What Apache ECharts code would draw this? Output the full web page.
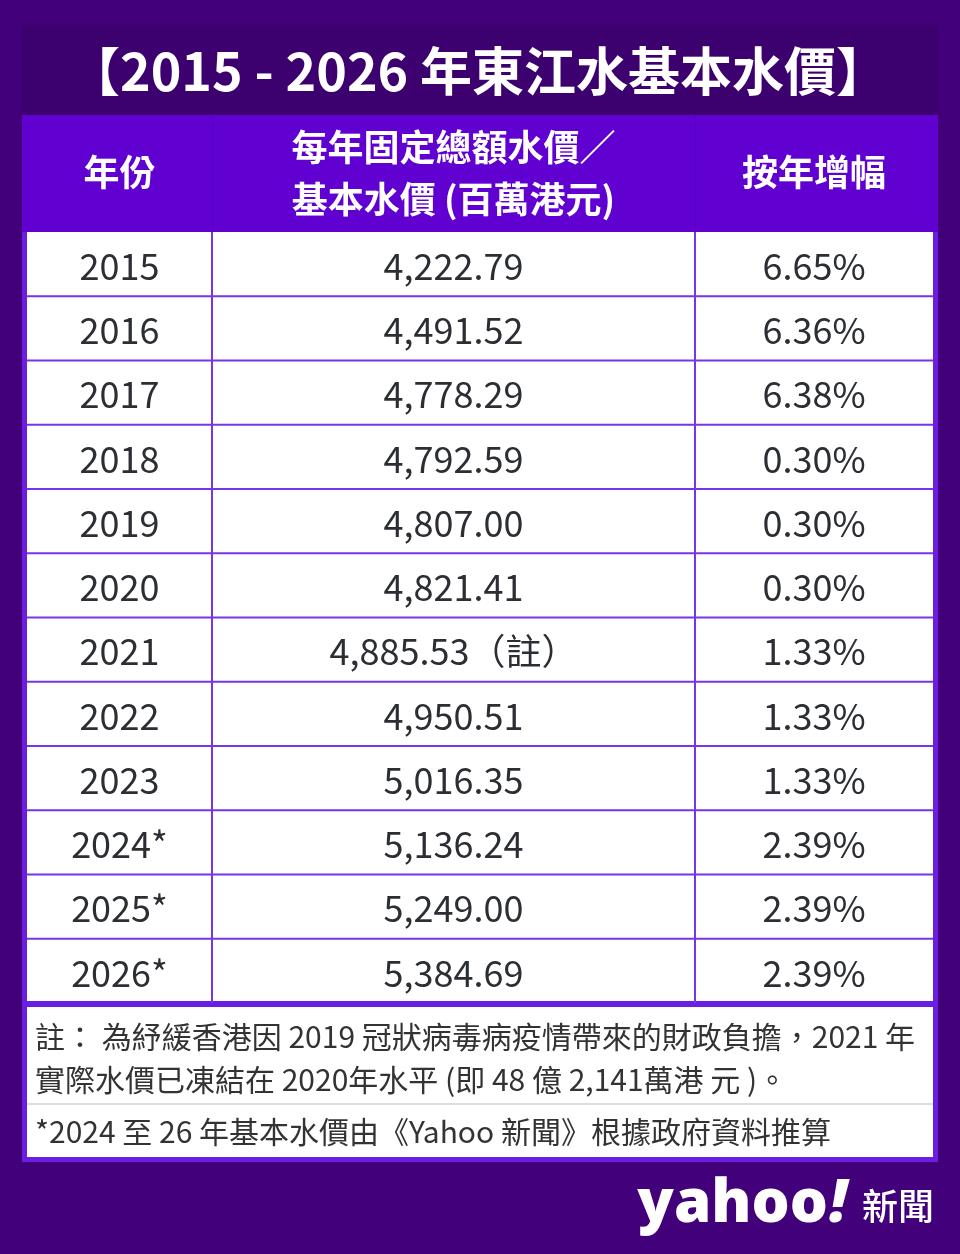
<!DOCTYPE html>
<html>
<head>
<meta charset="utf-8">
<script src="https://cdn.jsdelivr.net/npm/echarts@6/dist/echarts.min.js"></script>
<style>
html,body{margin:0;padding:0;background:#42007a;}
#chart{width:960px;height:1254px;}
</style>
</head>
<body>
<div id="chart"></div>
<script>
// ---- data ----
const title = '【2015 - 2026 年東江水基本水價】';
const headers = ['年份', '每年固定總額水價／', '基本水價 (百萬港元)', '按年增幅'];
const years = ['2015','2016','2017','2018','2019','2020','2021','2022','2023','2024*','2025*','2026*'];
const totals = [4222.79, 4491.52, 4778.29, 4792.59, 4807.00, 4821.41, 4885.53, 4950.51, 5016.35, 5136.24, 5249.00, 5384.69];
const totalNotes = ['', '', '', '', '', '', '（註）', '', '', '', '', ''];
const growth = [6.65, 6.36, 6.38, 0.30, 0.30, 0.30, 1.33, 1.33, 1.33, 2.39, 2.39, 2.39];
const notes = [
  '註： 為紓緩香港因 2019 冠狀病毒病疫情帶來的財政負擔，2021 年',
  '實際水價已凍結在 2020年水平 (即 48 億 2,141萬港 元 )。',
  '*2024 至 26 年基本水價由《Yahoo 新聞》根據政府資料推算'
];
const brand = ['yahoo', '!', '新聞'];

// ---- style ----
const FONT = '"Noto Sans CJK TC", "Noto Sans CJK SC", sans-serif';
const BG = '#42007a', TITLE_BG = '#3c006f', HEAD_BG = '#6001d2', FRAME = '#6c1de2', LINE = '#7436e6';
const TXT = '#2b2e33';

const fmt = v => v.toLocaleString('en-US', {minimumFractionDigits: 2, maximumFractionDigits: 2});

const chart = echarts.init(document.getElementById('chart'), null, {renderer: 'canvas'});

const GL = 27, GT = 232, GW = 906, GH = 771;
const COL1 = 185, COL2 = 668; // divider offsets inside grid

function txt(x, y, text, font, fill, align) {
  return {type: 'text', x: x, y: y, style: {text: text, font: font, fill: fill, align: align || 'center', verticalAlign: 'middle'}};
}

const graphic = [
  {type: 'rect', shape: {x: 22, y: 24, width: 916, height: 91}, style: {fill: TITLE_BG}, z: -10},
  {type: 'rect', shape: {x: 22, y: 115, width: 916, height: 117}, style: {fill: HEAD_BG}, z: -10},
  {type: 'rect', shape: {x: 22 + 190, y: 115, width: 1, height: 117}, style: {fill: '#5700bf'}, z: -9},
  {type: 'rect', shape: {x: 22 + 673, y: 115, width: 1, height: 117}, style: {fill: '#5700bf'}, z: -9},
  {type: 'rect', shape: {x: 22, y: 232, width: 916, height: 930}, style: {fill: FRAME}, z: -10},
  {type: 'rect', shape: {x: GL, y: GT, width: GW, height: GH - 2}, style: {fill: '#ffffff'}, z: -9},
  {type: 'rect', shape: {x: GL, y: 1007, width: GW, height: 150}, style: {fill: '#ffffff'}, z: -9},
  {type: 'rect', shape: {x: GL, y: 1103, width: GW, height: 2}, style: {fill: '#dddddd'}, z: -8},
  txt(478, 71, title, 'bold 52px ' + FONT, '#ffffff'),
  txt(GL + COL1 / 2, 172, headers[0], 'bold 36px ' + FONT, '#ffffff'),
  txt(GL + (COL1 + COL2) / 2, 147, headers[1], 'bold 36px ' + FONT, '#ffffff'),
  txt(GL + (COL1 + COL2) / 2, 199, headers[2], 'bold 36px ' + FONT, '#ffffff'),
  txt(GL + (COL2 + GW) / 2, 172, headers[3], 'bold 36px ' + FONT, '#ffffff'),
  txt(35, 1037, notes[0], '30px ' + FONT, '#333333', 'left'),
  txt(35, 1080, notes[1], '30px ' + FONT, '#333333', 'left'),
  txt(35, 1132, notes[2], '30px ' + FONT, '#333333', 'left'),
  txt(828, 1205, brand[0], '800 60px "Open Sans", sans-serif', '#ffffff', 'right'),
  txt(829, 1205, brand[1], 'italic 800 60px "Open Sans", sans-serif', '#ffffff', 'left'),
  txt(898, 1206, brand[2], '500 36px ' + FONT, '#ffffff')
];

const rows = years.map((y, i) => [0, y, totals[i], growth[i]]);

chart.setOption({
  backgroundColor: BG,
  animation: false,
  grid: {left: GL, top: GT, width: GW, height: GH, containLabel: false},
  xAxis: {type: 'value', min: 0, max: 1, show: false},
  yAxis: {type: 'category', data: years, inverse: true, show: false},
  graphic: graphic,
  series: [{
    type: 'custom',
    coordinateSystem: 'cartesian2d',
    encode: {x: 0, y: 1},
    data: rows,
    renderItem: function (params, api) {
      const i = params.dataIndex;
      const cs = params.coordSys;
      const p = api.coord([0, api.value(1)]);
      const h = api.size([0, 1])[1];
      const yc = p[1];
      const x0 = cs.x, x1 = cs.x + cs.width;
      const c1 = x0 + COL1, c2 = x0 + COL2;
      const f = '36px ' + FONT;
      const children = [
        txt((x0 + c1) / 2, yc + 2, years[i], f, TXT),
        txt((c1 + c2) / 2, yc + 2, fmt(totals[i]) + totalNotes[i], f, TXT),
        txt((c2 + x1) / 2, yc + 2, growth[i].toFixed(2) + '%', f, TXT),
        {type: 'line', shape: {x1: c1, y1: yc - h / 2, x2: c1, y2: yc + h / 2}, style: {stroke: LINE, lineWidth: 2}},
        {type: 'line', shape: {x1: c2, y1: yc - h / 2, x2: c2, y2: yc + h / 2}, style: {stroke: LINE, lineWidth: 2}}
      ];
      if (i < years.length - 1) {
        children.push({type: 'line', shape: {x1: x0, y1: yc + h / 2, x2: x1, y2: yc + h / 2}, style: {stroke: LINE, lineWidth: 2}});
      }
      return {type: 'group', children: children};
    }
  }]
});
</script>
</body>
</html>
